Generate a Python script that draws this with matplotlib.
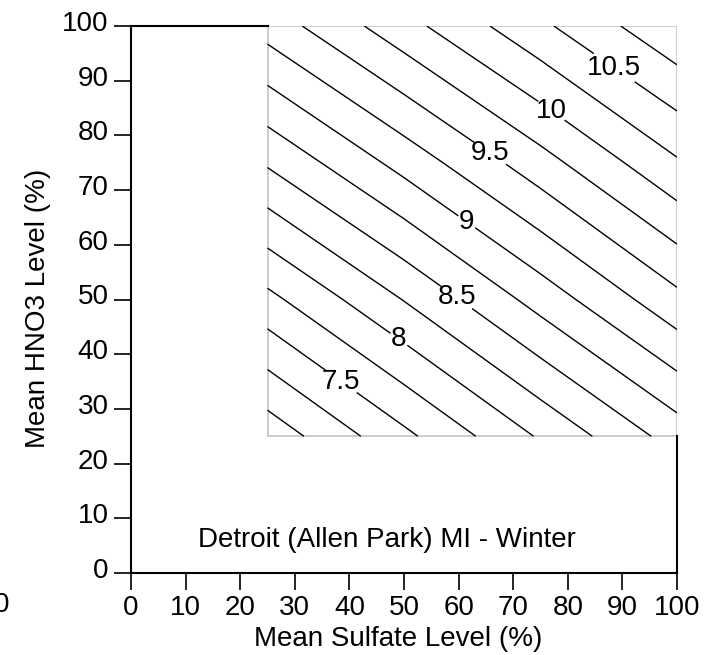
import matplotlib
matplotlib.use("Agg")
import matplotlib.pyplot as plt
from matplotlib.patches import Rectangle
from matplotlib.transforms import ScaledTranslation

plt.rcParams['font.family'] = ['Liberation Sans', 'DejaVu Sans']

# modeled nitrate response on a coarse grid of sulfate / HNO3 levels (%)
sulfate = [25, 50, 75, 100]
hno3 = [25, 50, 75, 100]
nitrate = [
    [6.84, 7.44, 8.03, 8.61],
    [7.68, 8.26, 8.85, 9.43],
    [8.53, 9.09, 9.65, 10.22],
    [9.36, 9.91, 10.45, 10.96],
]
plain_levels = [7.0, 7.25, 7.75, 8.25, 8.75, 9.25, 9.75, 10.25, 10.75]
label_levels = [7.5, 8.0, 8.5, 9.0, 9.5, 10.0, 10.5]
ticks = [0, 10, 20, 30, 40, 50, 60, 70, 80, 90, 100]

# where the contour labels sit (data coords)
label_pos = [(38.3, 34.7), (48.7, 42.2), (59.3, 49.9), (61.7, 64.5),
             (65.4, 76.1), (76.7, 84.1), (88.6, 92.5)]

fig = plt.figure(figsize=(7.15, 6.55), dpi=100)
ax = fig.add_axes([131 / 715, 82 / 655, 546 / 715, 547 / 655])

ax.contour(sulfate, hno3, nitrate, levels=plain_levels,
           colors='black', linewidths=1.0)
cs = ax.contour(sulfate, hno3, nitrate, levels=label_levels,
                colors='black', linewidths=1.0)
labels = ax.clabel(cs, manual=label_pos, inline=True,
                   inline_spacing=6, fontsize=20, fmt=lambda v: f'{v:g}')
for t in labels:
    t.set_rotation(0)

# grey frame round the modeled region
ax.add_patch(Rectangle((25, 25), 75, 75, fill=False, ec='#c4c4c4',
                       lw=1.2, zorder=1))

ax.set_xlim(0, 100)
ax.set_ylim(0, 100)
ax.set_xticks(ticks)
ax.set_yticks(ticks)
ax.tick_params(direction='out', length=12, width=1.2, pad=4, labelsize=20)

for side in ['top', 'right']:
    ax.spines[side].set_visible(False)
for side in ['left', 'bottom']:
    ax.spines[side].set_linewidth(1.5)
ax.plot([0, 25], [100, 100], color='black', lw=1.5, clip_on=False)
ax.plot([100, 100], [0, 25], color='black', lw=1.5, clip_on=False)

# nudge y tick labels up a little
shift = ScaledTranslation(0, 5 / 100, fig.dpi_scale_trans)
for tick in ax.yaxis.get_major_ticks():
    tick.label1.set_transform(tick.label1.get_transform() + shift)

ax.text(46.9, 6.0, 'Detroit (Allen Park) MI - Winter', fontsize=20,
        ha='center', va='center')

fig.text(398 / 715, 1 - 639 / 655, 'Mean Sulfate Level (%)', fontsize=20,
         ha='center', va='center')
fig.text(38 / 715, 1 - 308 / 655, 'Mean HNO3 Level (%)', fontsize=20,
         ha='center', va='center', rotation=90)
fig.text(2 / 715, 1 - 605 / 655, '0', fontsize=20, ha='center', va='center')

fig.savefig('out.png', dpi=100)
